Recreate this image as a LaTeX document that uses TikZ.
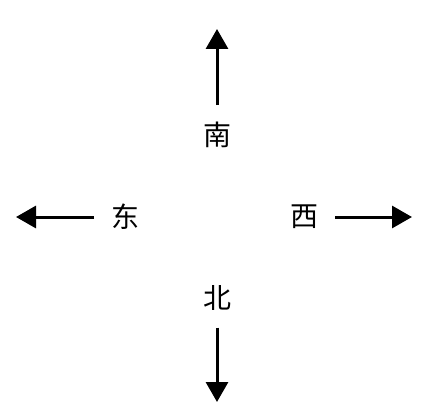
\documentclass[tikz,border=0pt]{standalone}
\usepackage{fontspec}
\newfontfamily\cjk{Noto Sans CJK SC}
\usetikzlibrary{arrows.meta}

\begin{document}
\begin{tikzpicture}[x=1pt,y=-1pt,
  dirlabel/.style={font=\cjk\fontsize{28}{32}\selectfont, inner sep=0pt, outer sep=17pt},
  dirarrow/.style={line width=3pt, -{Triangle[length=20pt,width=22pt]}}]

\useasboundingbox (0,0) rectangle (434,420);

\draw (217,135) node[dirlabel] (nan) {南};
\draw (217,298) node[dirlabel] (bei) {北};
\draw (125,217) node[dirlabel] (dong) {东};
\draw (304,217) node[dirlabel] (xi) {西};

\coordinate (nanend) at (218,29);
\coordinate (beiend) at (218,402);
\coordinate (dongend) at (16,217);
\coordinate (xiend) at (412,217);

\draw[dirarrow] (nan.north) -- (nan.north |- nanend);
\draw[dirarrow] (bei.south) -- (bei.south |- beiend);
\draw[dirarrow] (dong.west) -- (dong.west -| dongend);
\draw[dirarrow] (xi.east) -- (xi.east -| xiend);
\end{tikzpicture}
\end{document}
